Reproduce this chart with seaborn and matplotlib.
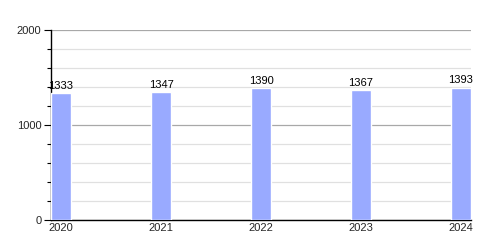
import matplotlib
matplotlib.use("Agg")
import matplotlib.pyplot as plt
import seaborn as sns
import pandas as pd
from matplotlib.ticker import MultipleLocator

years = ["2020", "2021", "2022", "2023", "2024"]
values = [1333, 1347, 1390, 1367, 1393]

sns.set_theme(style="white")
plt.rcParams['font.family'] = ['Liberation Sans', 'DejaVu Sans']

df = pd.DataFrame({"year": years, "value": values})

fig = plt.figure(figsize=(5, 2.5), dpi=100)
ax = fig.add_axes([0.102, 0.12, 0.84, 0.76])
sns.barplot(data=df, x="year", y="value", color="#99aaff", saturation=1,
            width=0.2, ax=ax, zorder=3)

ax.set_xlim(-0.1, 4.1)
ax.set_ylim(0, 2000)
ax.yaxis.set_major_locator(MultipleLocator(1000))
ax.yaxis.set_minor_locator(MultipleLocator(200))
ax.grid(True, which="major", axis="y", color="#a8a8a8", linewidth=0.9, zorder=0)
ax.grid(True, which="minor", axis="y", color="#e0e0e0", linewidth=0.9, zorder=0)
ax.set_axisbelow(True)

for s in ["top", "right"]:
    ax.spines[s].set_visible(False)
for s in ["left", "bottom"]:
    ax.spines[s].set_color("black")
    ax.spines[s].set_linewidth(1)

ax.tick_params(axis="y", which="major", direction="out", length=5, width=0.8,
               color="black", labelsize=8, pad=2, left=True)
ax.tick_params(axis="y", which="minor", direction="out", length=3, width=0.8,
               color="black", left=True)
ax.tick_params(axis="x", which="both", length=0, labelsize=8, pad=2)
ax.set_xlabel("")
ax.set_ylabel("")

for i, v in enumerate(values):
    ax.text(i, v + 25, str(v), ha="center", va="bottom", fontsize=8, color="black")

fig.savefig("out.png", dpi=100)
